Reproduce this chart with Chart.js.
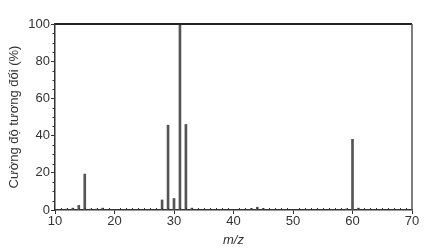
<!DOCTYPE html>
<html>
<head>
<meta charset="utf-8">
<script src="https://cdn.jsdelivr.net/npm/chart.js@4/dist/chart.umd.min.js"></script>
<style>
  html, body { margin: 0; padding: 0; background: #fff; }
  #wrap { width: 433px; height: 248px; }
</style>
</head>
<body>
<div id="wrap"><canvas id="chart-ms"></canvas></div>
<script>
// m/z values and relative intensity (%)
var mz        = [12, 13, 14, 15, 16, 17, 18, 28, 29, 30, 31, 32, 33, 43, 44, 45, 59, 60, 61];
var intensity = [0.5, 1, 2.5, 19.3, 0.5, 0.5, 1, 5.4, 45.6, 6.2, 100, 46, 1, 0.8, 1.5, 0.8, 0.6, 38, 1];

var xTicks = [10, 20, 30, 40, 50, 60, 70];
var yTicks = [0, 20, 40, 60, 80, 100];

var ink = '#333';

// short minor ticks + the top/right frame
var frameAndMinor = {
    id: 'frameAndMinor',
    afterDraw: function (chart) {
        var ctx = chart.ctx;
        var area = chart.chartArea;
        var sx = chart.scales.x;
        var sy = chart.scales.y;
        ctx.save();
        ctx.strokeStyle = ink;
        ctx.lineWidth = 1;
        ctx.beginPath();
        for (var v = 11; v < 70; v++) {
            if (v % 10 === 0) continue;
            var px = Math.round(sx.getPixelForValue(v)) + 0.5;
            ctx.moveTo(px, area.bottom);
            ctx.lineTo(px, area.bottom - 2);
        }
        for (var w = 5; w < 100; w += 5) {
            if (w % 20 === 0) continue;
            var py = Math.round(sy.getPixelForValue(w)) + 0.5;
            ctx.moveTo(area.left, py);
            ctx.lineTo(area.left - 2.5, py);
        }
        ctx.stroke();
        // frame
        ctx.lineWidth = 2;
        ctx.strokeStyle = '#222';
        ctx.beginPath();
        ctx.moveTo(area.left, area.top);
        ctx.lineTo(area.right, area.top);
        ctx.stroke();
        ctx.lineWidth = 1.5;
        ctx.strokeStyle = '#555';
        ctx.beginPath();
        ctx.moveTo(area.right, area.top);
        ctx.lineTo(area.right, area.bottom);
        ctx.stroke();
        ctx.restore();
    }
};

new Chart(document.getElementById('chart-ms'), {
    type: 'bar',
    data: {
        datasets: [{
            label: 'Cường độ',
            data: mz.map(function (m, i) { return { x: m, y: intensity[i] }; }),
            backgroundColor: '#555',
            barThickness: 2,
        }]
    },
    options: {
        responsive: true,
        maintainAspectRatio: false,
        animation: false,
        layout: { padding: { top: 24, right: 21, left: 0, bottom: 0 } },
        plugins: {
            legend: { display: false },
            tooltip: { enabled: false },
        },
        scales: {
            x: {
                type: 'linear',
                offset: false,
                min: 10,
                max: 70,
                afterBuildTicks: function (scale) {
                    scale.ticks = xTicks.map(function (v) { return { value: v }; });
                },
                afterFit: function (scale) { scale.height = 38; },
                grid: { display: true, offset: false, drawOnChartArea: false, drawTicks: true, tickLength: 4, color: ink, lineWidth: 1 },
                border: { display: true, color: ink, width: 1.5 },
                ticks: {
                    color: ink,
                    padding: 0,
                    maxRotation: 0,
                    font: { family: 'Liberation Sans, Arial', size: 13 },
                },
                title: {
                    display: true,
                    text: 'm/z',
                    color: ink,
                    padding: { top: 3, bottom: 0 },
                    font: { family: 'Liberation Sans, Arial', size: 13, style: 'italic' },
                },
            },
            y: {
                min: 0,
                max: 100,
                afterBuildTicks: function (scale) {
                    scale.ticks = yTicks.map(function (v) { return { value: v }; });
                },
                afterFit: function (scale) { scale.width = 55; },
                grid: { display: true, drawOnChartArea: false, drawTicks: true, tickLength: 4, color: ink, lineWidth: 1 },
                border: { display: true, color: ink, width: 1.5 },
                ticks: {
                    color: ink,
                    padding: 1,
                    font: { family: 'Liberation Sans, Arial', size: 13 },
                },
                title: {
                    display: true,
                    text: 'Cường độ tương đối (%)',
                    color: ink,
                    padding: { top: 7, bottom: 0 },
                    font: { family: 'Liberation Sans, Arial', size: 13 },
                },
            }
        }
    },
    plugins: [frameAndMinor],
});
</script>
</body>
</html>
